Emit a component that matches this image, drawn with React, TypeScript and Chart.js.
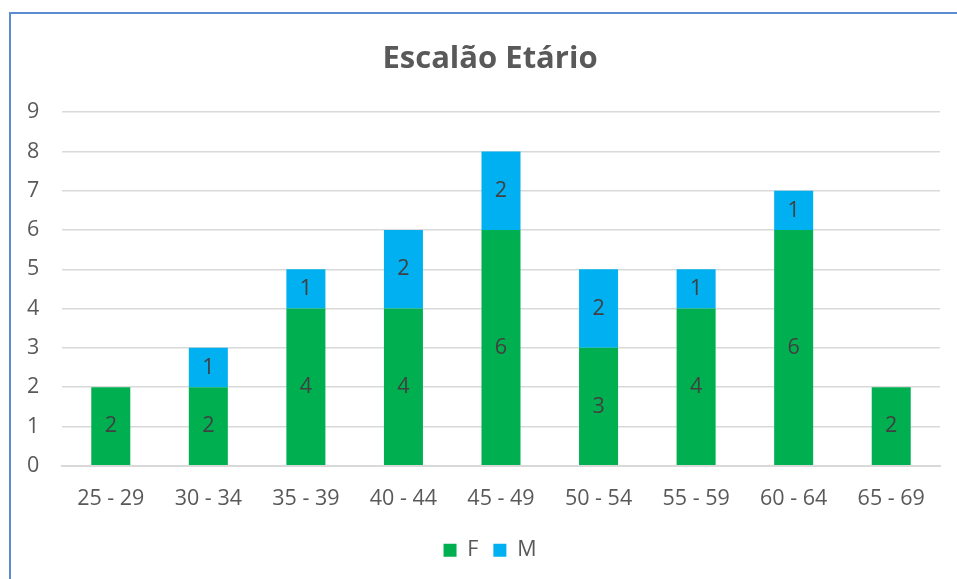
import React, { useEffect, useRef } from "react";
import { Chart, registerables } from "chart.js";

Chart.register(...registerables);

const categories = ["25 - 29", "30 - 34", "35 - 39", "40 - 44", "45 - 49", "50 - 54", "55 - 59", "60 - 64", "65 - 69"];
const femaleValues = [2, 2, 4, 4, 6, 3, 4, 6, 2];
const maleValues = [0, 1, 1, 2, 2, 2, 1, 1, 0];
const yTicks = [0, 1, 2, 3, 4, 5, 6, 7, 8, 9];
const titleText = "Escalão Etário";

const FONT = "'Open Sans', 'Liberation Sans', sans-serif";
const FS = 21.5;

const barLabels = {
  id: "barLabels",
  afterDatasetsDraw(chart: any) {
    const ctx = chart.ctx;
    ctx.save();
    ctx.font = `${FS}px ${FONT}`;
    ctx.fillStyle = "#404040";
    ctx.textAlign = "center";
    ctx.textBaseline = "middle";
    chart.data.datasets.forEach((ds: any, di: number) => {
      const meta = chart.getDatasetMeta(di);
      meta.data.forEach((bar: any, i: number) => {
        const v = ds.data[i];
        if (!v) return;
        const { x, y, base } = bar.getProps(["x", "y", "base"], true);
        ctx.fillText(String(v), x, (y + base) / 2);
      });
    });
    ctx.restore();
  },
};

export default function App() {
  const ref = useRef<HTMLCanvasElement>(null);
  useEffect(() => {
    const chart = new Chart(ref.current!, {
      type: "bar",
      data: {
        labels: categories,
        datasets: [
          { label: "F", data: femaleValues, backgroundColor: "#00B050", categoryPercentage: 1, barPercentage: 0.4 },
          { label: "M", data: maleValues, backgroundColor: "#00B0F0", categoryPercentage: 1, barPercentage: 0.4 },
        ],
      },
      options: {
        animation: false,
        responsive: false,
        layout: { padding: { left: 40, right: 17, top: 0, bottom: 8 } },
        plugins: {
          title: {
            display: true,
            text: titleText,
            color: "#595959",
            font: { family: FONT, size: 31, weight: "bold" },
            padding: { top: 41, bottom: 34 },
          },
          legend: {
            position: "bottom",
            labels: {
              boxWidth: 13,
              boxHeight: 13,
              color: "#595959",
              font: { family: FONT, size: FS },
              padding: 15,
            },
          },
          tooltip: { enabled: false },
        },
        scales: {
          x: {
            stacked: true,
            afterFit: (s: any) => { s.height -= 7; },
            grid: { display: false, drawTicks: false },
            border: { display: true, color: "#D9D9D9", width: 2 },
            ticks: { color: "#595959", font: { family: FONT, size: FS }, padding: 20 },
          },
          y: {
            stacked: true,
            min: 0,
            max: 9,
            afterFit: (s: any) => { s.width = 22; },
            afterBuildTicks: (s: any) => { s.ticks = yTicks.map((v) => ({ value: v })); },
            grid: { color: "#D9D9D9", lineWidth: 1.5, drawTicks: false },
            border: { display: false },
            ticks: { color: "#595959", font: { family: FONT, size: FS }, mirror: true, crossAlign: "near", padding: -35 },
          },
        },
      },
      plugins: [barLabels],
    });
    return () => chart.destroy();
  }, []);
  return (
    <div style={{ position: "fixed", left: 0, top: 0, width: 957, height: 579, background: "#fff" }}>
      <canvas ref={ref} width={957} height={579} style={{ position: "absolute", left: 0, top: 0 }} />
      <div style={{ position: "absolute", left: 9, top: 12, width: 1000, height: 1000, borderLeft: "2px solid #5B8BD0", borderTop: "2px solid #5B8BD0", pointerEvents: "none" }} />
    </div>
  );
}
